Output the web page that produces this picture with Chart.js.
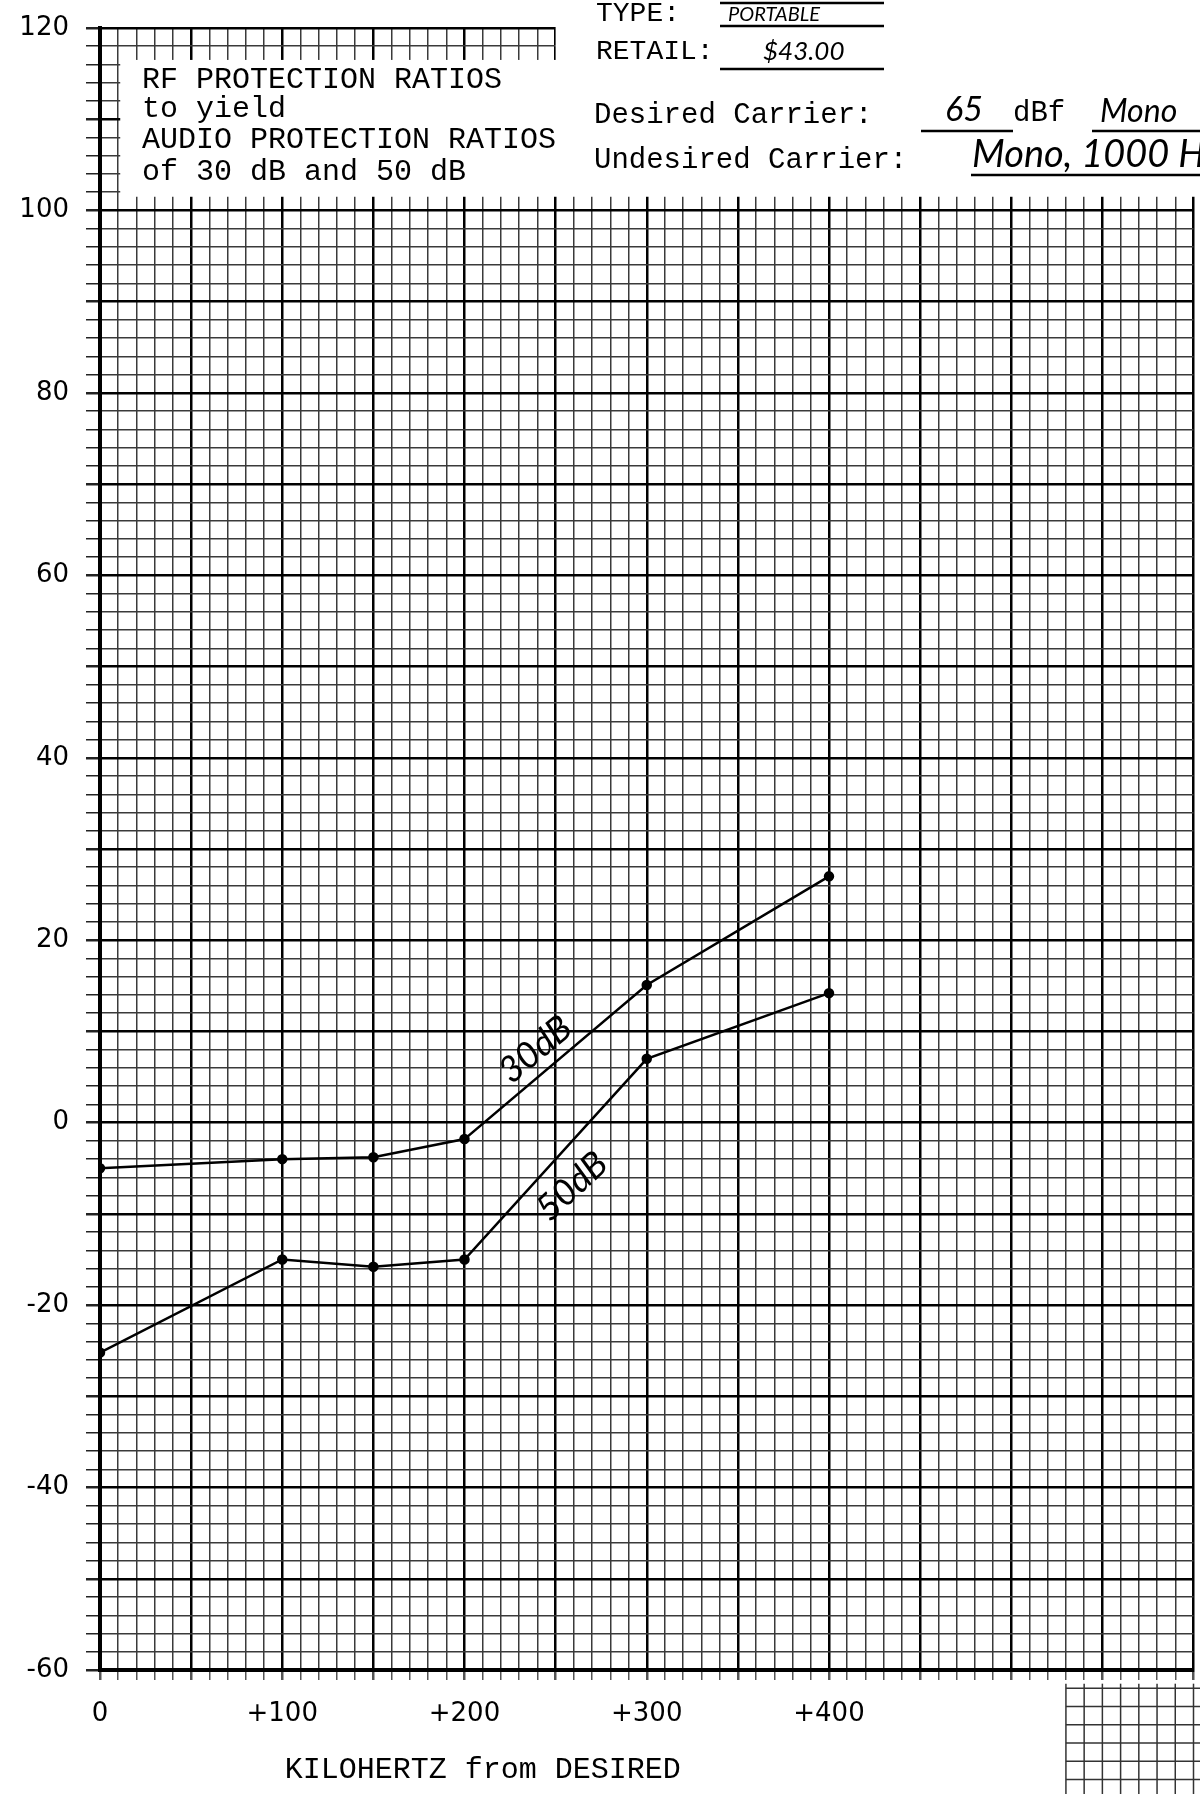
<!DOCTYPE html>
<html>
<head>
<meta charset="utf-8">
<script src="https://cdn.jsdelivr.net/npm/chart.js@4.4.1/dist/chart.umd.min.js"></script>
<style>
  html, body { margin: 0; padding: 0; background: #fff; overflow: hidden; }
  .wrap { position: relative; width: 1200px; height: 1794px; }
</style>
</head>
<body>
<div class="wrap"><canvas id="chart"></canvas></div>
<script>
// kHz from the desired carrier
var freqs = [0, 100, 150, 200, 300, 400];
// RF protection ratio (dB) giving 30 dB / 50 dB audio protection
var ratio30 = [-5, -4, -3.8, -1.8, 15.1, 27];
var ratio50 = [-25.2, -15, -15.8, -15, 7, 14.2];

// only these ticks get a label
var xLabelValues = [0, 100, 200, 300, 400];
var yLabelValues = [-60, -40, -20, 0, 20, 40, 60, 80, 100, 120];

var boxLines = ["RF PROTECTION RATIOS", "to yield", "AUDIO PROTECTION RATIOS", "of 30 dB and 50 dB"];

var MONO = '"Liberation Mono", "DejaVu Sans Mono", monospace';
var SANS = '"DejaVu Sans", Arial, sans-serif';
var HAND = '"Lato", "DejaVu Sans", sans-serif';

function gridColor(major) { return major ? "#000" : "#3a3a3a"; }

// graph paper bits, label box, form header and hand notes
var paperPlugin = {
  id: "paper",
  beforeDatasetsDraw: function (chart) {
    var ctx = chart.ctx, x = chart.scales.x, y = chart.scales.y;
    ctx.save();
    ctx.fillStyle = "#fff";
    // label box in the top-left
    var bx = x.getPixelForValue(10) + 2;
    var by0 = y.getPixelForValue(116.5), by1 = y.getPixelForValue(101.5);
    ctx.fillRect(bx, by0, chart.width - bx, by1 - by0);
    // form header on the right
    var fx = x.getPixelForValue(250);
    ctx.fillRect(fx, 0, chart.width - fx, y.getPixelForValue(102.5));
    ctx.restore();
  },
  afterDraw: function (chart) {
    var ctx = chart.ctx, x = chart.scales.x, y = chart.scales.y;
    ctx.save();
    ctx.fillStyle = "#000";
    ctx.strokeStyle = "#000";
    ctx.textBaseline = "middle";

    // label box text
    ctx.font = "30px " + MONO;
    ctx.textAlign = "left";
    var lineY = [80, 109, 140, 172];
    boxLines.forEach(function (t, i) { ctx.fillText(t, 142, lineY[i]); });

    // form header
    ctx.font = "28px " + MONO;
    ctx.fillText("TYPE:", 596, 14);
    ctx.fillText("RETAIL:", 596, 52);
    ctx.font = "29px " + MONO;
    ctx.fillText("Desired Carrier:", 594, 115);
    ctx.fillText("Undesired Carrier:", 594, 160);
    ctx.fillText("dBf", 1013, 113);

    ctx.font = "italic 20px " + HAND;
    ctx.fillText("PORTABLE", 728, 15);
    ctx.font = "italic 26px " + HAND;
    ctx.fillText("$43.00", 763, 52);
    ctx.font = "italic 34px " + HAND;
    ctx.fillText("65", 945, 110);
    ctx.font = "italic 32px " + HAND;
    ctx.fillText("Mono", 1100, 112);
    ctx.font = "italic 38px " + HAND;
    ctx.fillText("Mono, 1000 Hz", 972, 155);

    ctx.lineWidth = 2.5;
    [[720, 884, 3], [720, 884, 26], [720, 884, 69], [921, 1013, 131], [1092, 1200, 131], [971, 1200, 175]].forEach(function (u) {
      ctx.beginPath(); ctx.moveTo(u[0], u[2]); ctx.lineTo(u[1], u[2]); ctx.stroke();
    });

    // hand notes along the curves
    ctx.font = "italic 36px " + HAND;
    ctx.textAlign = "center";
    [["30dB", 239, 8, -0.7], ["50dB", 259, -7, -0.75]].forEach(function (n) {
      ctx.save();
      ctx.translate(x.getPixelForValue(n[1]), y.getPixelForValue(n[2]));
      ctx.rotate(n[3]);
      ctx.fillText(n[0], 0, 0);
      ctx.restore();
    });

    // axis title
    ctx.font = "30px " + MONO;
    ctx.fillText("KILOHERTZ from DESIRED", x.getPixelForValue(210), 1770);

    // next sheet peeking out at bottom right
    ctx.lineWidth = 1.5;
    ctx.strokeStyle = "#333";
    var bottom = chart.height;
    for (var v = 530; v <= 600; v += 10) {
      var px = x.getPixelForValue(v);
      ctx.beginPath(); ctx.moveTo(px, y.getPixelForValue(-61.5)); ctx.lineTo(px, bottom); ctx.stroke();
    }
    for (var w = -62; w >= -74; w -= 2) {
      var py = y.getPixelForValue(w);
      ctx.beginPath(); ctx.moveTo(x.getPixelForValue(530), py); ctx.lineTo(chart.width, py); ctx.stroke();
    }
    ctx.restore();
  }
};

var ctx = document.getElementById("chart").getContext("2d");

new Chart(ctx, {
  type: "line",
  data: {
    datasets: [
      {
        label: "30 dB",
        data: freqs.map(function (f, i) { return { x: f, y: ratio30[i] }; }),
        borderColor: "#000",
        backgroundColor: "#000",
        borderWidth: 2.5,
        pointRadius: 4,
        tension: 0,
      },
      {
        label: "50 dB",
        data: freqs.map(function (f, i) { return { x: f, y: ratio50[i] }; }),
        borderColor: "#000",
        backgroundColor: "#000",
        borderWidth: 2.5,
        pointRadius: 4,
        tension: 0,
      },
    ],
  },
  options: {
    responsive: true,
    maintainAspectRatio: false,
    animation: false,
    layout: { padding: { top: 28, right: 0, bottom: 0, left: 0 } },
    plugins: {
      legend: { display: false },
      tooltip: { enabled: false },
    },
    scales: {
      x: {
        type: "linear",
        min: 0,
        max: 600,
        afterFit: function (s) { s.height = 124; s.paddingLeft = 0; s.paddingRight = 0; },
        border: { color: "#000", width: 4 },
        grid: {
          color: function (c) { return gridColor(c.tick && c.tick.value % 50 === 0); },
          lineWidth: function (c) { return c.tick && c.tick.value % 50 === 0 ? 2.5 : 1.5; },
          tickLength: 10,
          tickColor: "#555",
        },
        ticks: {
          stepSize: 10,
          autoSkip: false,
          maxRotation: 0,
          padding: 19,
          color: "#000",
          font: { family: SANS, size: 26 },
          callback: function (v) {
            if (xLabelValues.indexOf(v) < 0) return "";
            return v === 0 ? "0" : "+" + v;
          },
        },
      },
      y: {
        min: -60,
        max: 120,
        afterFit: function (s) { s.width = 100; s.paddingTop = 0; s.paddingBottom = 0; },
        border: { color: "#000", width: 4 },
        grid: {
          color: function (c) { return gridColor(c.tick && c.tick.value % 10 === 0); },
          lineWidth: function (c) { return c.tick && c.tick.value % 10 === 0 ? 2.5 : 1.5; },
          tickLength: 14,
          tickColor: "#222",
        },
        ticks: {
          stepSize: 2,
          autoSkip: false,
          padding: 17,
          color: "#000",
          font: { family: SANS, size: 26 },
          callback: function (v) {
            return yLabelValues.indexOf(v) < 0 ? "" : String(v);
          },
        },
      },
    },
  },
  plugins: [paperPlugin],
});
</script>
</body>
</html>
